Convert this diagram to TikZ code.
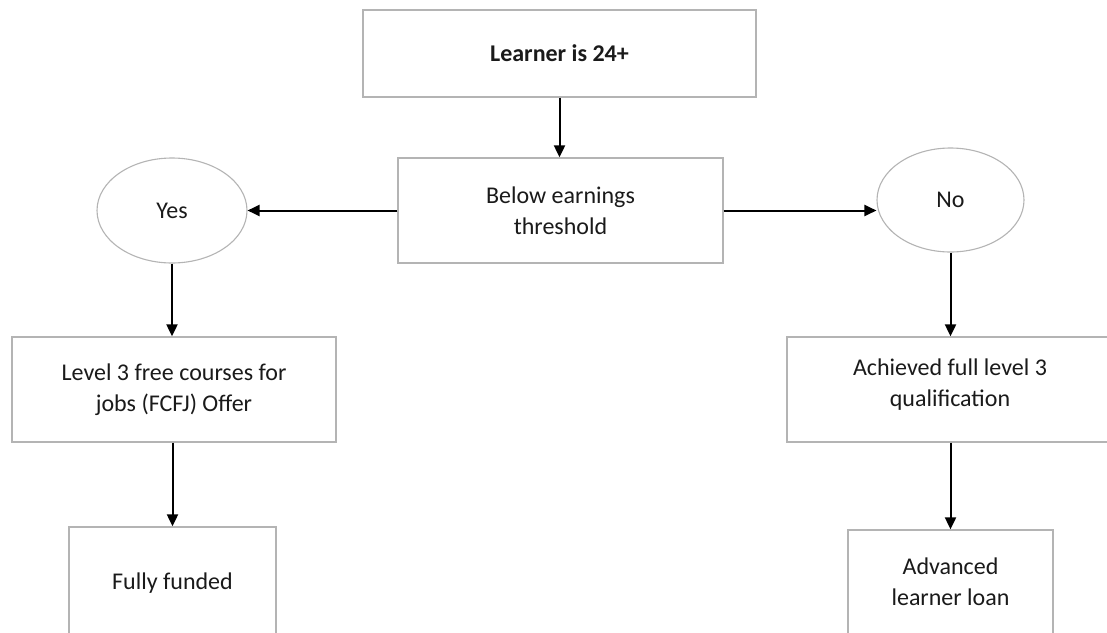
\documentclass[tikz,border=0pt]{standalone}
\usepackage{fontspec}
\setmainfont{Carlito}
\usetikzlibrary{arrows.meta,shapes.geometric}
\definecolor{boxgray}{HTML}{B4B4B4}
\definecolor{txt}{HTML}{1A1A1A}
\tikzset{
  box/.style={draw=boxgray,line width=1.3pt,fill=white,inner sep=0pt,align=center,text=txt,font=\fontsize{24}{31}\selectfont},
  oval/.style={ellipse,draw=boxgray,line width=1.1pt,fill=white,inner sep=0pt,text=txt,font=\fontsize{24}{31}\selectfont},
  arr/.style={-{Triangle[length=12pt,width=11pt]},line width=2pt,black}
}
\begin{document}
\begin{tikzpicture}[x=1pt,y=-1pt]
\useasboundingbox (0,0) rectangle (1107,632);
\clip (0,0) rectangle (1107,632);
\node[box,minimum width=393pt,minimum height=87pt,font=\fontsize{24}{31}\selectfont\bfseries] (top) at (559.5,53.5) {Learner is 24+};
\node[box,minimum width=325pt,minimum height=105pt] (bet) at (560.5,210.5) {Below earnings\\threshold};
\node[oval,minimum width=150pt,minimum height=105pt] (yes) at (172,210.5) {Yes};
\node[oval,minimum width=147pt,minimum height=104pt] (no) at (950.5,200) {No};
\node[box,minimum width=324pt,minimum height=105pt] (l3) at (174,389.5) {Level 3 free courses for\\jobs (FCFJ) Offer};
\node[box,minimum width=207pt,minimum height=112pt] (ff) at (172.5,583) {Fully funded};
\node[box,minimum width=330pt,minimum height=105pt] (ach) at (952,389.5) {};
\node[text=txt,font=\fontsize{24}{31}\selectfont,align=center,inner sep=0pt] (achtxt) at (950,385) {Achieved full level 3\\qualification};
\node[box,minimum width=205pt,minimum height=104pt] (adv) at (950.5,582) {Advanced\\learner loan};
\draw[arr] (top.south) -- (top.south |- bet.north);
\draw[arr] (bet.west) -- (bet.west -| yes.east);
\draw[arr] (bet.east) -- (bet.east -| no.west);
\draw[arr] (yes.south) -- (yes.south |- l3.north);
\draw[arr] (ff.north |- l3.south) -- (ff.north);
\draw[arr] (no.south) -- (no.south |- ach.north);
\draw[arr] (adv.north |- ach.south) -- (adv.north);
\end{tikzpicture}
\end{document}
